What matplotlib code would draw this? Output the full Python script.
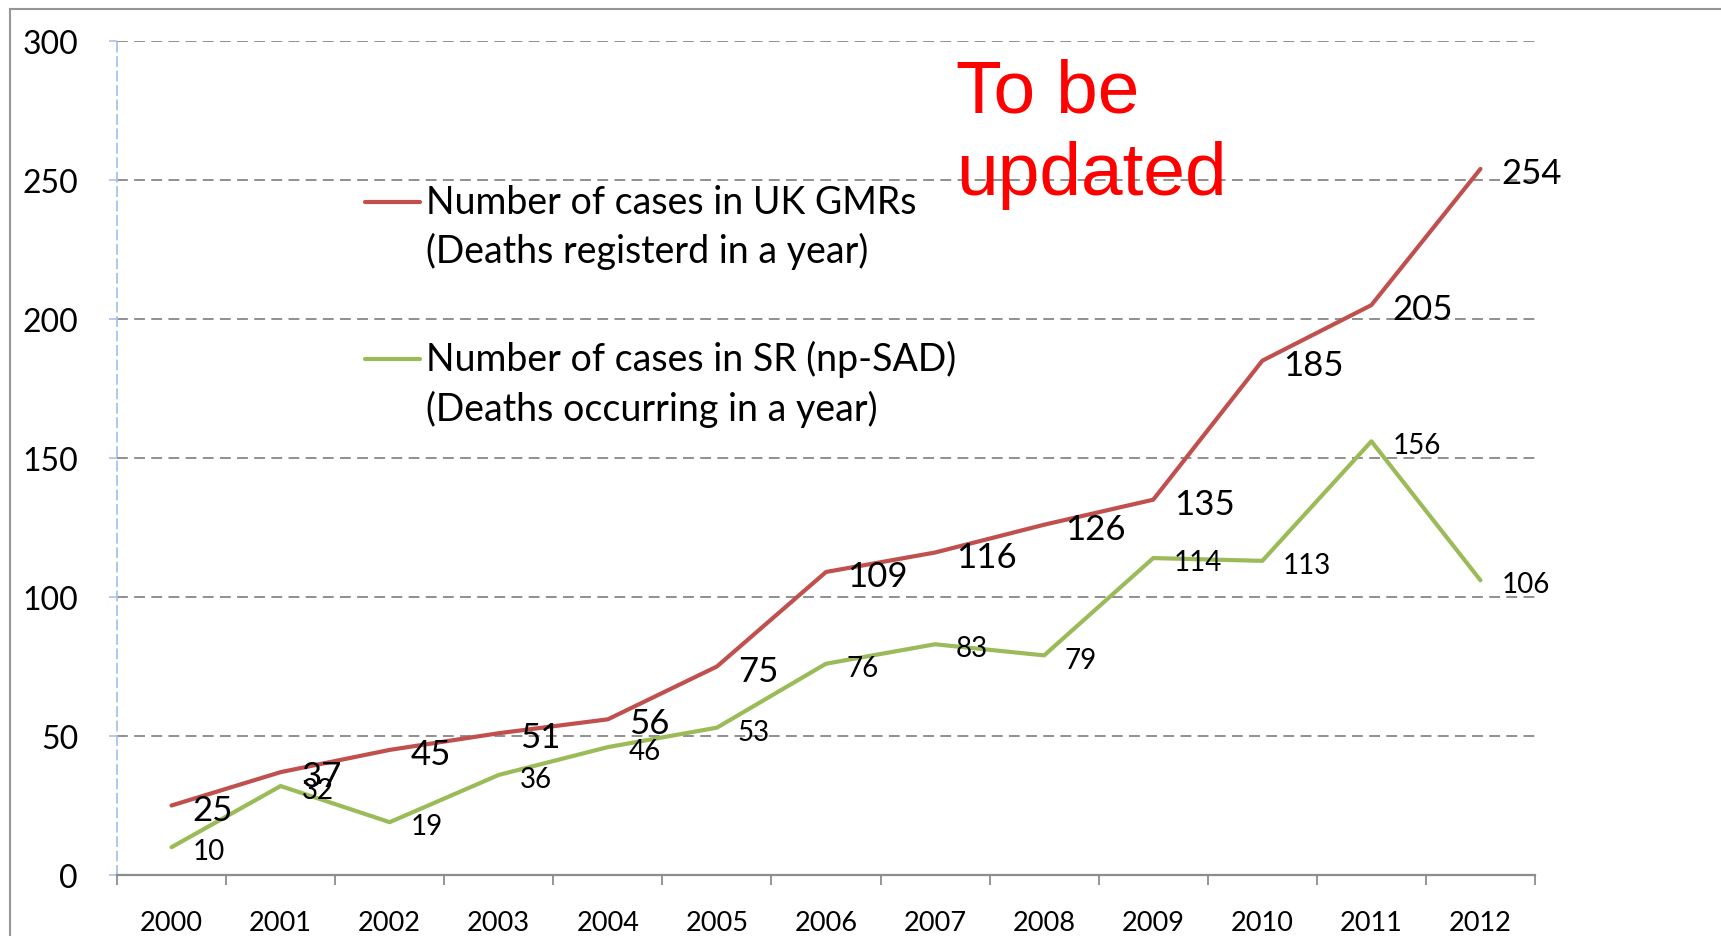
import matplotlib
matplotlib.use("Agg")
import matplotlib.pyplot as plt
from matplotlib.lines import Line2D

plt.rcParams['font.family'] = ['Lato', 'DejaVu Sans']

years = ['2000', '2001', '2002', '2003', '2004', '2005', '2006',
         '2007', '2008', '2009', '2010', '2011', '2012']
gmr_cases = [25, 37, 45, 51, 56, 75, 109, 116, 126, 135, 185, 205, 254]
sr_cases = [10, 32, 19, 36, 46, 53, 76, 83, 79, 114, 113, 156, 106]

gmr_label = ['Number of cases in UK GMRs', '(Deaths registerd in a year)']
sr_label = ['Number of cases in SR (np-SAD)', '(Deaths occurring in a year)']

red = '#C0504D'
green = '#9BBB59'

fig = plt.figure(figsize=(17.21, 9.37), dpi=100)
ax = fig.add_axes([117 / 1721, 1 - 876 / 937, 1418 / 1721, 834 / 937])

x = list(range(len(years)))
ax.plot(x, gmr_cases, color=red, lw=3, solid_capstyle='round', zorder=3)
ax.plot(x, sr_cases, color=green, lw=3, solid_capstyle='round', zorder=3)

# data labels, right of each point
for i, v in enumerate(gmr_cases):
    ax.annotate(str(v), (i, v), xytext=(15, -3), textcoords='offset points',
                ha='left', va='center', fontsize=25, zorder=4)
for i, v in enumerate(sr_cases):
    ax.annotate(str(v), (i, v), xytext=(15, -3), textcoords='offset points',
                ha='left', va='center', fontsize=20, zorder=4)

ax.set_xlim(-0.5, len(years) - 0.5)
ax.set_ylim(0, 300)
ax.set_yticks(range(0, 301, 50))
ax.set_xticks(x)
ax.set_xticklabels(years)
ax.set_xticks([i - 0.5 for i in range(len(years) + 1)], minor=True)

ax.tick_params(axis='x', which='major', length=0, labelsize=19.5, pad=25)
ax.tick_params(axis='x', which='minor', length=7, width=1.3, color='#8c8c8c', direction='out')
ax.tick_params(axis='y', length=6, width=1.2, color='#a9c2ea', labelsize=23, pad=22)

ax.grid(axis='y', color='#878787', lw=1.3, linestyle=(0, (6, 3.5)))
ax.set_axisbelow(True)

for s in ['top', 'right']:
    ax.spines[s].set_visible(False)
ax.spines['bottom'].set_color('#8c8c8c')
ax.spines['bottom'].set_linewidth(1.6)
ax.spines['left'].set_color('#a9c2ea')
ax.spines['left'].set_linewidth(1.3)
ax.spines['left'].set_linestyle((0, (5, 3)))

# legend drawn by hand
tr = ax.transAxes
ax.add_line(Line2D([0.175, 0.214], [0.807, 0.807], color=red, lw=3,
                   transform=tr, solid_capstyle='round'))
ax.add_line(Line2D([0.175, 0.214], [0.619, 0.619], color=green, lw=3,
                   transform=tr, solid_capstyle='round'))
ax.text(0.218, 0.807, gmr_label[0], transform=tr, fontsize=27, va='center')
ax.text(0.218, 0.749, gmr_label[1], transform=tr, fontsize=27, va='center')
ax.text(0.218, 0.619, sr_label[0], transform=tr, fontsize=27, va='center')
ax.text(0.218, 0.560, sr_label[1], transform=tr, fontsize=27, va='center')

# note in red
ax.text(0.592, 0.915, 'To be', transform=tr, fontsize=54, color='#FF0000',
        family='Liberation Sans', va='baseline')
ax.text(0.592, 0.8165, 'updated', transform=tr, fontsize=54, color='#FF0000',
        family='Liberation Sans', va='baseline')

# slide frame, cut off at right and bottom
fig.add_artist(Line2D([10 / 1721, 10 / 1721], [0, 1 - 10 / 937], color='#969696',
                      lw=1.5, transform=fig.transFigure))
fig.add_artist(Line2D([10 / 1721, 1], [1 - 10 / 937, 1 - 10 / 937], color='#969696',
                      lw=1.5, transform=fig.transFigure))

fig.savefig('out.png', dpi=100)
